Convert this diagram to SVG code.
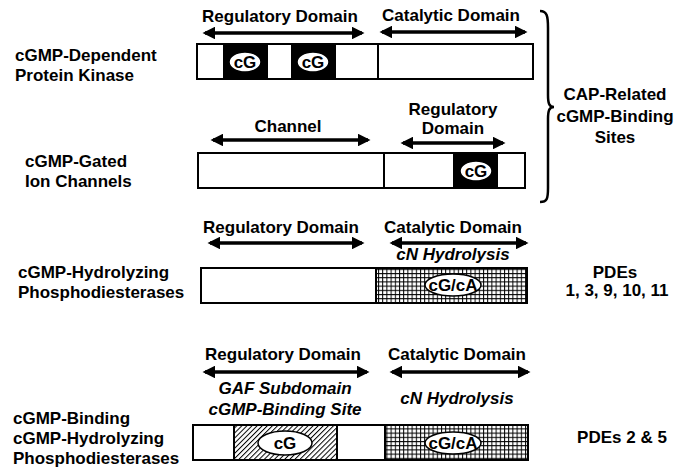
<svg xmlns="http://www.w3.org/2000/svg" width="689" height="470" viewBox="0 0 689 470">
<defs>
<style>
text{font-family:"Liberation Sans",Arial,sans-serif;font-weight:bold;font-size:17px;fill:#000}
.c{text-anchor:middle}
.i{font-style:italic}
.box{fill:#fff;stroke:#000;stroke-width:2}
.blk{fill:#000}
.ell{fill:#fff;stroke:#000;stroke-width:1.5}
.arr{stroke:#000;stroke-width:3.5;fill:none;marker-start:url(#ah);marker-end:url(#ah)}
</style>
<marker id="ah" viewBox="0 0 10 10" refX="8" refY="5" markerWidth="3.6" markerHeight="3.6" orient="auto-start-reverse" markerUnits="strokeWidth">
<path d="M0,0 L10,5 L0,10 z" fill="#000"/>
</marker>
<pattern id="grid" width="4.2" height="4.2" patternUnits="userSpaceOnUse">
<rect width="4.2" height="4.2" fill="#fff"/>
<path d="M0,0.5 H4.2 M0.5,0 V4.2" stroke="#000" stroke-width="1"/>
</pattern>
<pattern id="hatch" width="3.6" height="3.6" patternUnits="userSpaceOnUse" patternTransform="rotate(45)">
<rect width="3.6" height="3.6" fill="#fff"/>
<path d="M0,0 V3.6" stroke="#000" stroke-width="2"/>
</pattern>
</defs>
<rect width="689" height="470" fill="#fff"/>

<g id="connectors">
<line class="arr" x1="205" y1="33" x2="362" y2="33"/>
<line class="arr" x1="382" y1="32" x2="525" y2="32"/>
<line class="arr" x1="213" y1="140" x2="368" y2="140"/>
<line class="arr" x1="403" y1="143" x2="503" y2="143"/>
<line class="arr" x1="210" y1="243" x2="362" y2="243"/>
<line class="arr" x1="392" y1="243" x2="526" y2="243"/>
<line class="arr" x1="205" y1="372" x2="367" y2="372"/>
<line class="arr" x1="392" y1="372" x2="528" y2="372"/>
</g>

<g id="pkg">
<text x="15" y="61">cGMP-Dependent</text>
<text x="15" y="81">Protein Kinase</text>
<text class="c" x="280" y="22">Regulatory Domain</text>
<text class="c" x="451" y="21">Catalytic Domain</text>
<rect class="box" x="197" y="44" width="336" height="35"/>
<rect class="blk" x="223" y="44" width="45" height="35"/>
<rect class="blk" x="291" y="44" width="45" height="35"/>
<line x1="378" y1="44" x2="378" y2="79" stroke="#000" stroke-width="2"/>
<ellipse class="ell" cx="245" cy="62" rx="16" ry="10"/>
<text class="c" x="245" y="68">cG</text>
<ellipse class="ell" cx="313" cy="62" rx="16" ry="10"/>
<text class="c" x="313" y="68">cG</text>
</g>

<g id="channel">
<text x="25" y="167">cGMP-Gated</text>
<text x="25" y="187">Ion Channels</text>
<text class="c" x="288" y="132">Channel</text>
<text class="c" x="453" y="115">Regulatory</text>
<text class="c" x="453" y="134">Domain</text>
<rect class="box" x="198" y="153" width="327" height="35"/>
<line x1="384" y1="153" x2="384" y2="188" stroke="#000" stroke-width="2"/>
<rect class="blk" x="453" y="153" width="45" height="35"/>
<ellipse class="ell" cx="476" cy="171" rx="16" ry="10"/>
<text class="c" x="476" y="177">cG</text>
</g>

<g id="brace">
<path d="M540,11 C547,11 548,16 548,28 L548,95 C548,103 549,107 554,107 C549,107 548,111 548,119 L548,188 C548,199 547,202 540,202" fill="none" stroke="#000" stroke-width="2.5"/>
<text class="c" x="615" y="100">CAP-Related</text>
<text class="c" x="615" y="122">cGMP-Binding</text>
<text class="c" x="615" y="143">Sites</text>
</g>

<g id="pde1">
<text x="18" y="278">cGMP-Hydrolyzing</text>
<text x="18" y="298">Phosphodiesterases</text>
<text class="c" x="281" y="233">Regulatory Domain</text>
<text class="c" x="453" y="233">Catalytic Domain</text>
<text class="c i" x="453" y="260">cN Hydrolysis</text>
<rect class="box" x="201" y="268" width="326" height="35"/>
<rect x="376" y="268" width="151" height="35" fill="url(#grid)" stroke="#000" stroke-width="2"/>
<ellipse class="ell" cx="453" cy="285" rx="28" ry="11"/>
<text class="c" x="453" y="291">cG/cA</text>
<text class="c" x="615" y="278">PDEs</text>
<text class="c" x="617" y="296">1, 3, 9, 10, 11</text>
</g>

<g id="pde2">
<text x="13" y="424">cGMP-Binding</text>
<text x="13" y="444">cGMP-Hydrolyzing</text>
<text x="13" y="464">Phosphodiesterases</text>
<text class="c" x="283" y="360">Regulatory Domain</text>
<text class="c" x="457" y="360">Catalytic Domain</text>
<text class="c i" x="285" y="394">GAF Subdomain</text>
<text class="c i" x="285" y="415">cGMP-Binding Site</text>
<text class="c i" x="457" y="404">cN Hydrolysis</text>
<rect class="box" x="193" y="425" width="335" height="35"/>
<rect x="234" y="425" width="103" height="35" fill="url(#hatch)" stroke="#000" stroke-width="2"/>
<rect x="385" y="425" width="143" height="35" fill="url(#grid)" stroke="#000" stroke-width="2"/>
<ellipse class="ell" cx="285" cy="443" rx="27" ry="12"/>
<text class="c" x="285" y="449">cG</text>
<ellipse class="ell" cx="453" cy="443" rx="28" ry="11"/>
<text class="c" x="453" y="449">cG/cA</text>
<text class="c" x="622" y="443">PDEs 2 &amp; 5</text>
</g>
</svg>
